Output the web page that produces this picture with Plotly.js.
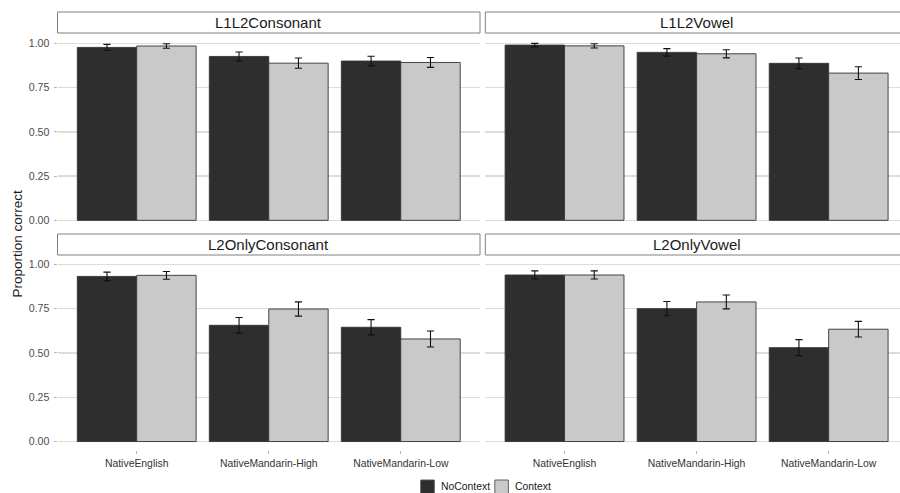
<!DOCTYPE html>
<html>
<head>
<meta charset="utf-8">
<script src="https://cdn.plot.ly/plotly-3.0.1.min.js"></script>
<style>
  html, body { margin: 0; padding: 0; background: #ffffff; overflow: hidden; }
  #chart { width: 900px; height: 493px; }
</style>
</head>
<body>
<div id="chart"></div>
<script>
// Listener groups on the x axis and the two listening conditions
const groups = ['NativeEnglish', 'NativeMandarin-High', 'NativeMandarin-Low'];
const conditions = ['NoContext', 'Context'];
const panelTitles = ['L1L2Consonant', 'L1L2Vowel', 'L2OnlyConsonant', 'L2OnlyVowel'];

// Mean proportion correct and standard errors, one array per panel and condition
const l1l2ConsonantNoContext   = [0.977, 0.926, 0.900];
const l1l2ConsonantNoContextSE = [0.017, 0.025, 0.027];
const l1l2ConsonantContext     = [0.985, 0.888, 0.892];
const l1l2ConsonantContextSE   = [0.013, 0.029, 0.028];

const l1l2VowelNoContext   = [0.990, 0.949, 0.887];
const l1l2VowelNoContextSE = [0.010, 0.021, 0.030];
const l1l2VowelContext     = [0.986, 0.941, 0.832];
const l1l2VowelContextSE   = [0.012, 0.023, 0.036];

const l2OnlyConsonantNoContext   = [0.932, 0.656, 0.645];
const l2OnlyConsonantNoContextSE = [0.024, 0.044, 0.043];
const l2OnlyConsonantContext     = [0.938, 0.748, 0.579];
const l2OnlyConsonantContextSE   = [0.022, 0.040, 0.045];

const l2OnlyVowelNoContext   = [0.940, 0.750, 0.530];
const l2OnlyVowelNoContextSE = [0.023, 0.040, 0.045];
const l2OnlyVowelContext     = [0.940, 0.788, 0.634];
const l2OnlyVowelContextSE   = [0.023, 0.039, 0.044];

const yTicks = [0, 0.25, 0.5, 0.75, 1];
const yTickLabels = ['0.00', '0.25', '0.50', '0.75', '1.00'];

// ---- styling ----
const W = 900, H = 493;
const FONT = 'Liberation Sans, Arial, Helvetica, sans-serif';
const fillColors = { NoContext: '#2e2e2e', Context: '#c9c9c9' };
const outline = '#333333';
const px = x => x / W;          // pixel column -> paper x
const py = y => 1 - y / H;      // pixel row -> paper y

const panelData = [
  [[l1l2ConsonantNoContext, l1l2ConsonantNoContextSE], [l1l2ConsonantContext, l1l2ConsonantContextSE]],
  [[l1l2VowelNoContext, l1l2VowelNoContextSE], [l1l2VowelContext, l1l2VowelContextSE]],
  [[l2OnlyConsonantNoContext, l2OnlyConsonantNoContextSE], [l2OnlyConsonantContext, l2OnlyConsonantContextSE]],
  [[l2OnlyVowelNoContext, l2OnlyVowelNoContextSE], [l2OnlyVowelContext, l2OnlyVowelContextSE]]
];

// panel geometry in pixels: [left, right], [top, bottom]
const colX = [[57.5, 480], [485.3, 900]];
const rowY = [[34.5, 229.2], [255.5, 450.4]];
const stripY = [[12, 33], [234, 255]];
const catStep = 132;   // pixels per category
// right column is cut at the page edge, so its range stops short of 2.6
const colRange = [[-0.6, 2.6], [-0.6, 2.6 - (907.9 - 900) / catStep]];

const traces = [];
panelData.forEach((pair, p) => {
  const suffix = p === 0 ? '' : String(p + 1);
  pair.forEach(([vals, se], c) => {
    traces.push({
      type: 'bar',
      name: conditions[c],
      x: groups,
      y: vals,
      xaxis: 'x' + suffix,
      yaxis: 'y' + suffix,
      showlegend: false,
      marker: { color: fillColors[conditions[c]], line: { color: outline, width: 0.9 } },
      error_y: { type: 'data', array: se, visible: true, color: '#111111', thickness: 1.1, width: 3.6 },
      hoverinfo: 'x+y'
    });
  });
});

const layout = {
  width: W, height: H,
  margin: { l: 0, r: 0, t: 0, b: 0 },
  paper_bgcolor: '#ffffff',
  plot_bgcolor: '#ffffff',
  font: { family: FONT, color: '#4d4d4d' },
  barmode: 'group',
  bargap: 0.1,
  bargroupgap: 0,
  shapes: [],
  annotations: []
};

for (let p = 0; p < 4; p++) {
  const col = p % 2, row = Math.floor(p / 2);
  const suffix = p === 0 ? '' : String(p + 1);
  const bottomRow = row === 1, leftCol = col === 0;
  layout['xaxis' + suffix] = {
    domain: [px(colX[col][0]), px(colX[col][1])],
    anchor: 'y' + suffix,
    type: 'category',
    range: colRange[col],
    showgrid: false, zeroline: false, showline: false,
    ticks: bottomRow ? 'outside' : '',
    ticklen: 3, tickwidth: 1, tickcolor: '#b3b3b3',
    showticklabels: bottomRow,
    tickfont: { family: FONT, size: 10.4, color: '#333333' },
    fixedrange: true
  };
  layout['yaxis' + suffix] = {
    domain: [py(rowY[row][1]), py(rowY[row][0])],
    anchor: 'x' + suffix,
    range: [-0.05, 1.05],
    tickvals: yTicks,
    ticktext: yTickLabels,
    showgrid: true, gridcolor: '#dcdcdc', gridwidth: 1.3,
    zeroline: false, showline: false,
    ticks: leftCol ? 'outside' : '',
    ticklen: 3, tickwidth: 1, tickcolor: '#b3b3b3',
    ticklabelstandoff: 2,
    showticklabels: leftCol,
    tickfont: { family: FONT, size: 10.6, color: '#4d4d4d' },
    fixedrange: true
  };

  // facet strip
  const x0 = colX[col][0];
  const x1 = col === 1 ? 907.9 : colX[col][1];
  layout.shapes.push({
    type: 'rect', xref: 'paper', yref: 'paper', layer: 'above',
    x0: px(x0), x1: px(x1), y0: py(stripY[row][1]), y1: py(stripY[row][0]),
    fillcolor: '#ffffff', line: { color: '#808080', width: 1 }
  });
  layout.annotations.push({
    xref: 'paper', yref: 'paper', showarrow: false,
    x: px((x0 + x1) / 2), y: py((stripY[row][0] + stripY[row][1]) / 2),
    xanchor: 'center', yanchor: 'middle',
    text: panelTitles[p],
    font: { family: FONT, size: 15, color: '#1a1a1a' }
  });
}

// y axis title shared by both rows
layout.annotations.push({
  xref: 'paper', yref: 'paper', showarrow: false,
  x: px(17), y: py(243.5), xanchor: 'center', yanchor: 'middle',
  textangle: -90, text: 'Proportion correct',
  font: { family: FONT, size: 13.5, color: '#1a1a1a' }
});

// legend keys along the bottom
const legendKeys = [
  { label: conditions[0], keyX: 420.7, textX: 439 },
  { label: conditions[1], keyX: 494.8, textX: 513.3 }
];
legendKeys.forEach(k => {
  layout.shapes.push({
    type: 'rect', xref: 'paper', yref: 'paper',
    x0: px(k.keyX), x1: px(k.keyX + 13.6), y0: py(493.6), y1: py(480),
    fillcolor: fillColors[k.label], line: { color: '#555555', width: 0.9 }
  });
  layout.annotations.push({
    xref: 'paper', yref: 'paper', showarrow: false,
    x: px(k.textX), y: py(486.8), xanchor: 'left', yanchor: 'middle',
    text: k.label, font: { family: FONT, size: 10.4, color: '#1a1a1a' }
  });
});

Plotly.newPlot('chart', traces, layout, { staticPlot: true, displayModeBar: false });
</script>
</body>
</html>
